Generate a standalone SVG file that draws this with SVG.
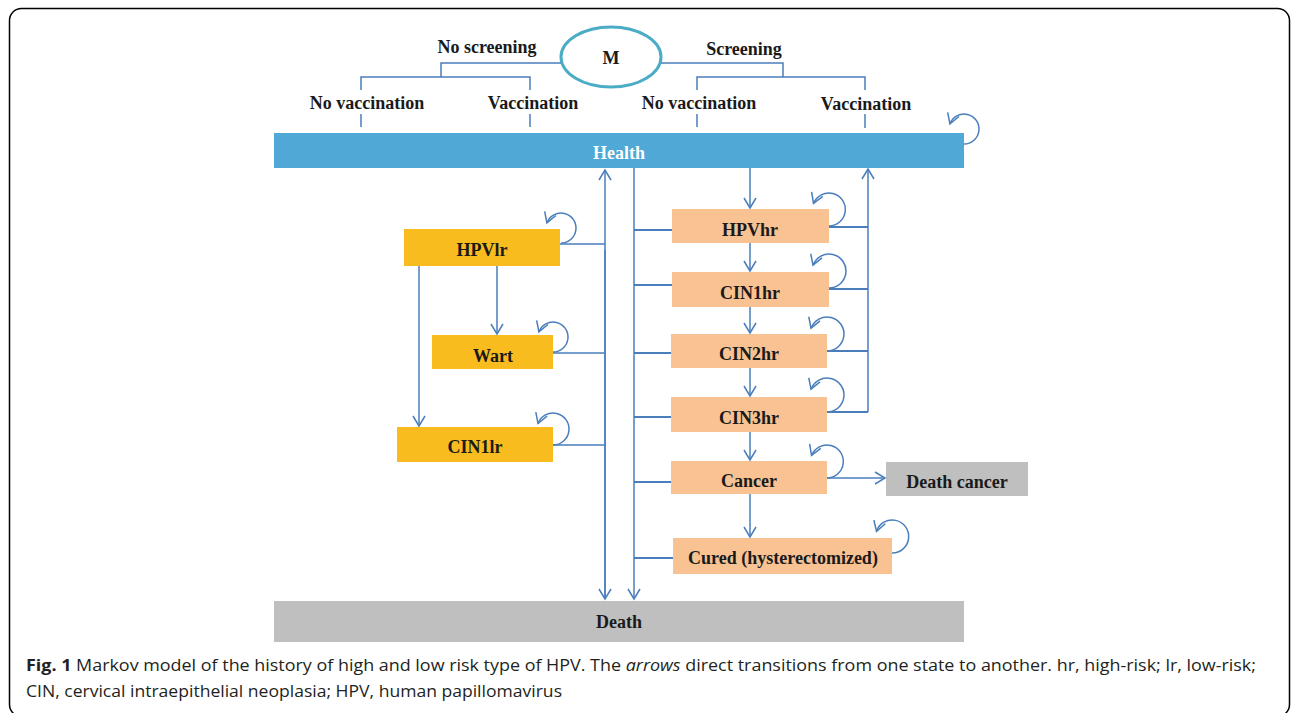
<svg xmlns="http://www.w3.org/2000/svg" width="1292" height="713" viewBox="0 0 1292 713">
<style>
.lbl{font-family:"Liberation Serif","Times New Roman",serif;font-weight:bold;font-size:18px;fill:#1a1a1a;text-anchor:middle}
.wht{fill:#ffffff}
.ln{stroke:#4a7ebb;stroke-width:1.5;fill:none}
.lnb{stroke:#4a7ebb;stroke-width:2;fill:none}
.gold{fill:#f8bc1f}
.peach{fill:#f8c293}
.gray{fill:#bfbfbf}
.cap{font-family:"Open Sans","Noto Sans","Liberation Sans",sans-serif;font-size:16px;fill:#231f20}
</style>
<defs>
<marker id="ar" markerUnits="userSpaceOnUse" markerWidth="16" markerHeight="16" refX="11" refY="7" orient="auto">
<path d="M1,1 L11,7 L1,13" fill="none" stroke="#4a7ebb" stroke-width="1.5"/>
</marker>
</defs>
<rect x="9.5" y="8.5" width="1280" height="708" rx="12" fill="none" stroke="#000" stroke-width="1.5"/>

<g id="tree">
<ellipse cx="611" cy="57" rx="50" ry="30" fill="#fff" stroke="#4bacc6" stroke-width="3"/>
<text class="lbl" x="611" y="64">M</text>
<text class="lbl" x="487" y="53">No screening</text>
<text class="lbl" x="744" y="55">Screening</text>
<path class="ln" d="M561,63 H441 V77 M361,90 V77 H530 V90"/>
<path class="ln" d="M661,63 H783 V77 M697,90 V77 H865 V90"/>
<text class="lbl" x="367" y="109">No vaccination</text>
<text class="lbl" x="533" y="109">Vaccination</text>
<text class="lbl" x="699" y="109">No vaccination</text>
<text class="lbl" x="866" y="110">Vaccination</text>
<path class="ln" d="M361,114 V127 M530,114 V127 M697,114 V127 M865,114 V128"/>
</g>

<g id="health"><rect x="274" y="133" width="690" height="35" fill="#4fa8d5"/><text class="lbl wht" x="619" y="159">Health</text></g>
<g id="death"><rect x="274" y="601" width="690" height="41" class="gray"/><text class="lbl" x="619" y="628">Death</text></g>

<g id="hpvlr"><rect x="404" y="229" width="156" height="37" class="gold"/><text class="lbl" x="482" y="256">HPVlr</text></g>
<g id="wart"><rect x="432" y="335" width="121" height="34" class="gold"/><text class="lbl" x="493" y="362">Wart</text></g>
<g id="cin1lr"><rect x="397" y="427" width="156" height="35" class="gold"/><text class="lbl" x="475" y="453">CIN1lr</text></g>

<g id="hpvhr"><rect x="672" y="209" width="157" height="34" class="peach"/><text class="lbl" x="750" y="236">HPVhr</text></g>
<g id="cin1hr"><rect x="672" y="272" width="157" height="35" class="peach"/><text class="lbl" x="750" y="299">CIN1hr</text></g>
<g id="cin2hr"><rect x="671" y="334" width="156" height="34" class="peach"/><text class="lbl" x="749" y="360">CIN2hr</text></g>
<g id="cin3hr"><rect x="671" y="397" width="156" height="35" class="peach"/><text class="lbl" x="749" y="424">CIN3hr</text></g>
<g id="cancer"><rect x="671" y="461" width="156" height="33" class="peach"/><text class="lbl" x="749" y="487">Cancer</text></g>
<g id="deathcancer"><rect x="886" y="462" width="142" height="34" class="gray"/><text class="lbl" x="957" y="488">Death cancer</text></g>
<g id="cured"><rect x="673" y="538" width="219" height="36" class="peach"/><text class="lbl" x="783" y="564">Cured (hysterectomized)</text></g>

<g id="connectors">
<path class="ln" d="M605,598 V170" marker-end="url(#ar)"/>
<path class="ln" d="M605,250 V599" marker-end="url(#ar)"/>
<path class="ln" d="M560,244 H605 M553,353 H605 M553,445 H605"/>
<path class="ln" d="M497,266 V334" marker-end="url(#ar)"/>
<path class="ln" d="M419,266 V426" marker-end="url(#ar)"/>
<path class="ln" d="M634,168 V599" marker-end="url(#ar)"/>
<path class="lnb" d="M634,230 H672 M634,285 H672 M634,353 H671 M634,417 H671 M634,482 H671 M634,558 H673"/>
<path class="ln" d="M750,168 V208" marker-end="url(#ar)"/>
<path class="ln" d="M750,243 V271" marker-end="url(#ar)"/>
<path class="ln" d="M750,307 V333" marker-end="url(#ar)"/>
<path class="ln" d="M750,368 V396" marker-end="url(#ar)"/>
<path class="ln" d="M750,432 V460" marker-end="url(#ar)"/>
<path class="ln" d="M750,494 V537" marker-end="url(#ar)"/>
<path class="ln" d="M827,478 H885" marker-end="url(#ar)"/>
<path class="ln" d="M868,412 V169" marker-end="url(#ar)"/>
<path class="lnb" d="M829,227 H868 M829,289 H868 M827,351 H868 M827,412 H868"/>
<path class="ln" d="M964,144 A15,15 0 1 0 949.9,123.9" marker-end="url(#ar)"/>
<path class="ln" d="M561,243 A15,15 0 1 0 546.9,222.9" marker-end="url(#ar)"/>
<path class="ln" d="M553,352 A15,15 0 1 0 538.9,331.9" marker-end="url(#ar)"/>
<path class="ln" d="M553,445 A16,16 0 1 0 538,423.5" marker-end="url(#ar)"/>
<path class="ln" d="M829,226 A16.5,16.5 0 1 0 813.5,203.4" marker-end="url(#ar)"/>
<path class="ln" d="M829,288 A17,17 0 1 0 813,265.2" marker-end="url(#ar)"/>
<path class="ln" d="M827,351 A17,17 0 1 0 811,328.2" marker-end="url(#ar)"/>
<path class="ln" d="M827,412 A17,17 0 1 0 811,389.2" marker-end="url(#ar)"/>
<path class="ln" d="M827,478 A16.5,16.5 0 1 0 811.5,455.4" marker-end="url(#ar)"/>
<path class="ln" d="M892,553 A16.5,16.5 0 1 0 876.5,531.4" marker-end="url(#ar)"/>
</g>

<g id="caption">
<text class="cap" x="26" y="671" textLength="1230" lengthAdjust="spacingAndGlyphs"><tspan font-weight="bold">Fig. 1</tspan> Markov model of the history of high and low risk type of HPV. The <tspan font-style="italic">arrows</tspan> direct transitions from one state to another. hr, high-risk; lr, low-risk;</text>
<text class="cap" x="26" y="697" textLength="536" lengthAdjust="spacingAndGlyphs">CIN, cervical intraepithelial neoplasia; HPV, human papillomavirus</text>
</g>
</svg>
